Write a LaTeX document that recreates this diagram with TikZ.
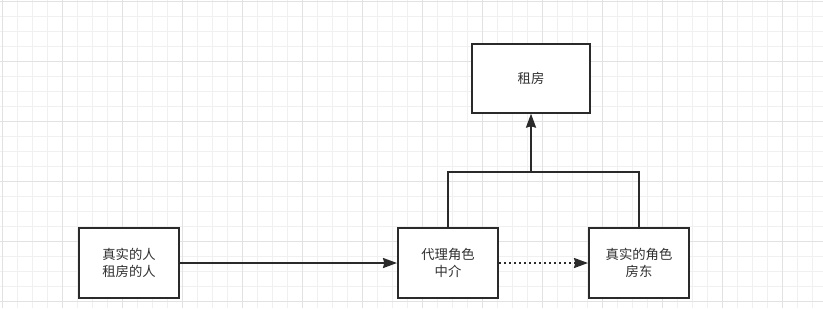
\documentclass[tikz,border=0pt]{standalone}
\usepackage{fontspec}
\newfontfamily\cjk{Noto Sans CJK SC}
\usetikzlibrary{arrows.meta}
\definecolor{gridminor}{HTML}{F0F0F0}
\definecolor{gridmajor}{HTML}{E2E2E2}
\definecolor{ink}{HTML}{2A2A2A}
\definecolor{txt}{HTML}{303030}
\tikzset{
  box/.style={draw=ink, line width=1.5pt, fill=white, minimum width=75pt, minimum height=52.5pt, inner sep=0pt, font=\cjk\fontsize{10}{12.5}\selectfont, text=txt, align=center},
  conn/.style={draw=ink, line width=1.5pt},
  tip/.style={-{Stealth[length=10.5pt,width=7.5pt,inset=1pt]}},
}
\begin{document}
\begin{tikzpicture}[x=0.75pt,y=-0.75pt]
\useasboundingbox (0,0) rectangle (823,308);
\fill[white] (0,0) rectangle (823,308);
% grid
\foreach \i in {0,...,54} {
  \pgfmathsetmacro{\xx}{2.7+15*\i}
  \draw[gridminor, line width=0.75pt] (\xx,0) -- (\xx,308);
}
\foreach \j in {0,...,20} {
  \pgfmathsetmacro{\yy}{1+15*\j}
  \draw[gridminor, line width=0.75pt] (0,\yy) -- (823,\yy);
}
\foreach \i in {0,...,13} {
  \pgfmathsetmacro{\xx}{2.7+60*\i}
  \draw[gridmajor, line width=0.75pt] (\xx,0) -- (\xx,308);
}
\foreach \j in {0,...,5} {
  \pgfmathsetmacro{\yy}{1+60*\j}
  \draw[gridmajor, line width=0.75pt] (0,\yy) -- (823,\yy);
}
% boxes
\node[box] (person) at (129,263) {真实的人\\租房的人};
\node[box] (proxy) at (448,263) {代理角色\\中介};
\node[box] (owner) at (639,263) {真实的角色\\房东};
\node[box, minimum width=88pt, minimum height=51.5pt] (rent) at (531,78.3) {租房};
% connectors
\coordinate (junction) at (rent.south |- 0,171.7);
\draw[conn, tip] (person.east) -- (proxy.west);
\draw[conn, tip, dash pattern=on 1.5pt off 2.25pt] (proxy.east) -- (owner.west);
\draw[conn] (proxy.north) |- (junction) -| (owner.north);
\draw[conn, tip] (junction) -- (rent.south);
\end{tikzpicture}
\end{document}
